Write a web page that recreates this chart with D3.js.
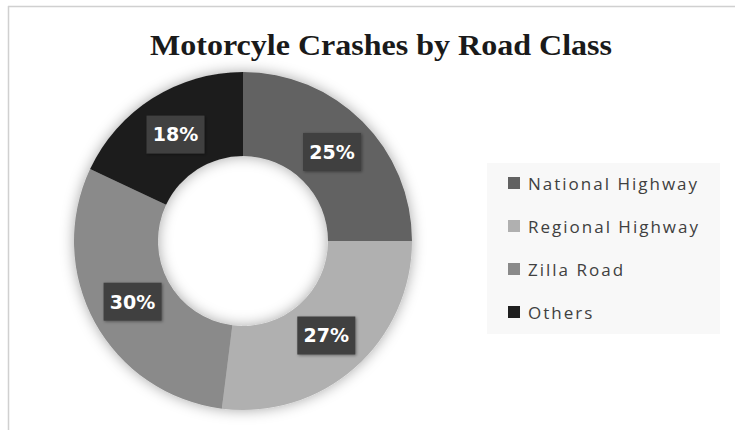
<!DOCTYPE html>
<meta charset="utf-8">
<script src="https://d3js.org/d3.v7.min.js"></script>
<style>
  body { margin: 0; background: #fff; }
</style>
<div id="chart"></div>
<script>
// data
var categories = ["National Highway", "Regional Highway", "Zilla Road", "Others"];
var shares = [25, 27, 30, 18];
var colors = ["#626262", "#b0b0b0", "#8a8a8a", "#1f1f1f"];
var title = "Motorcyle Crashes by Road Class";

var W = 735, H = 430;
var cx = 243, cy = 241, outerR = 169, innerR = 85;

var svg = d3.select("#chart").append("svg")
    .attr("width", W)
    .attr("height", H);

var defs = svg.append("defs");
var f = defs.append("filter").attr("id", "shadow")
    .attr("x", "-20%").attr("y", "-20%").attr("width", "140%").attr("height", "140%");
f.append("feDropShadow").attr("dx", 0).attr("dy", 0).attr("stdDeviation", 7)
    .attr("flood-color", "#000").attr("flood-opacity", 0.35);
var f2 = defs.append("filter").attr("id", "lblshadow")
    .attr("x", "-30%").attr("y", "-30%").attr("width", "160%").attr("height", "160%");
f2.append("feDropShadow").attr("dx", 1).attr("dy", 1).attr("stdDeviation", 1.5)
    .attr("flood-color", "#000").attr("flood-opacity", 0.4);

// chart area border
svg.append("line").attr("x1", 8).attr("x2", W).attr("y1", 6.5).attr("y2", 6.5)
    .attr("stroke", "#d0d0d0").attr("stroke-width", 1.5);
svg.append("line").attr("x1", 8.5).attr("x2", 8.5).attr("y1", 6).attr("y2", H)
    .attr("stroke", "#d0d0d0").attr("stroke-width", 1.5);

// title
svg.append("text")
    .attr("x", 381).attr("y", 55)
    .attr("text-anchor", "middle")
    .attr("textLength", 462)
    .attr("lengthAdjust", "spacingAndGlyphs")
    .style("font-family", "'Liberation Serif', 'Times New Roman', serif")
    .style("font-weight", "bold")
    .style("font-size", "30px")
    .style("fill", "#1a1a1a")
    .text(title);

var data = categories.map(function(c, i) { return {name: c, value: shares[i], color: colors[i]}; });

var pie = d3.pie().sort(null).value(function(d) { return d.value; });
var arc = d3.arc().innerRadius(innerR).outerRadius(outerR);
var labelArc = d3.arc().innerRadius(126).outerRadius(126);

var g = svg.append("g").attr("transform", "translate(" + cx + "," + cy + ")");

g.append("g").attr("filter", "url(#shadow)")
  .selectAll("path")
  .data(pie(data))
  .enter().append("path")
    .attr("d", arc)
    .attr("fill", function(d) { return d.data.color; });

var lbl = g.selectAll(".lbl")
  .data(pie(data))
  .enter().append("g")
    .attr("class", "lbl")
    .attr("transform", function(d) {
      var c = labelArc.centroid(d);
      return "translate(" + c[0] + "," + c[1] + ")";
    });

lbl.append("rect")
    .attr("x", -29).attr("y", -19)
    .attr("width", 58).attr("height", 38)
    .attr("fill", "#3f3f3f")
    .attr("filter", "url(#lblshadow)");

lbl.append("text")
    .attr("text-anchor", "middle")
    .attr("dy", "0.36em")
    .style("font-family", "'DejaVu Sans', sans-serif")
    .style("font-weight", "bold")
    .style("font-size", "19px")
    .style("fill", "#fff")
    .text(function(d) { return d.data.value + "%"; });

// legend
var legend = svg.append("g");
legend.append("rect")
    .attr("x", 487).attr("y", 163)
    .attr("width", 233).attr("height", 171)
    .attr("fill", "#f8f8f8");

var ly = d3.scalePoint().domain(categories).range([183.5, 312.5]);

var item = legend.selectAll(".item")
  .data(data)
  .enter().append("g")
    .attr("class", "item")
    .attr("transform", function(d) { return "translate(508," + ly(d.name) + ")"; });

item.append("rect")
    .attr("x", 0).attr("y", -6.5)
    .attr("width", 12).attr("height", 12)
    .attr("fill", function(d) { return d.color; });

item.append("text")
    .attr("x", 20)
    .attr("dy", "0.36em")
    .style("font-family", "'Open Sans', sans-serif")
    .style("font-size", "17px")
    .style("letter-spacing", "2px")
    .style("fill", "#404040")
    .text(function(d) { return d.name; });
</script>
